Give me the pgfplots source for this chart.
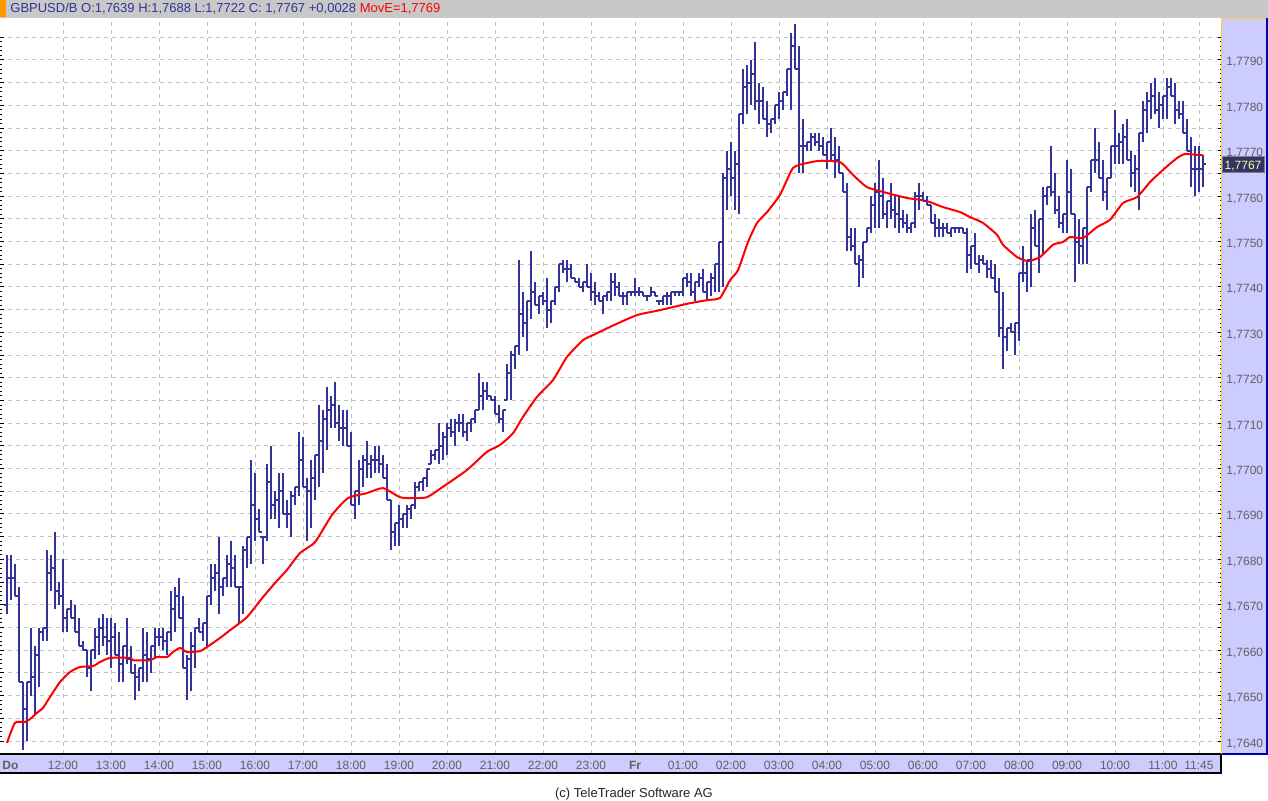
\documentclass[border=0pt]{standalone}
\usepackage{fontspec}
\setmainfont{Liberation Sans}
\usepackage{pgfplots}
\usepackage{pgfplotstable}
\pgfplotsset{compat=1.18}

\definecolor{barblue}{RGB}{51,51,153}
\definecolor{panel}{RGB}{204,204,255}
\definecolor{hdrgray}{RGB}{200,200,200}
\definecolor{gridgray}{RGB}{192,192,192}
\definecolor{lblgray}{RGB}{96,96,96}
\definecolor{hdrorange}{RGB}{255,153,0}
\definecolor{edgeorange}{RGB}{255,204,51}
\definecolor{edgeblue}{RGB}{0,0,170}
\definecolor{tagblue}{RGB}{51,51,102}
\definecolor{tagtext}{RGB}{255,255,153}

% open / close ticks of the OHLC bars
\pgfdeclareplotmark{otick}{\pgfpathmoveto{\pgfqpoint{-1.5pt}{0pt}}\pgfpathlineto{\pgfqpoint{0pt}{0pt}}\pgfusepathqstroke}
\pgfdeclareplotmark{ctick}{\pgfpathmoveto{\pgfqpoint{0pt}{0pt}}\pgfpathlineto{\pgfqpoint{1.5pt}{0pt}}\pgfusepathqstroke}

% 5-minute bars, slot k (12:00 = 14, Fr 00:00 = 157)
\pgfplotstableread{
k o h l c
0 1.7670 1.7681 1.7668 1.7676
1 1.7676 1.7681 1.7671 1.7676
2 1.7676 1.7679 1.7672 1.7672
3 1.7672 1.7674 1.7653 1.7653
4 1.7653 1.7653 1.7638 1.7647
5 1.7647 1.7653 1.7640 1.7653
6 1.7653 1.7665 1.7650 1.7654
7 1.7654 1.7661 1.7646 1.7659
8 1.7659 1.7665 1.7652 1.7664
9 1.7664 1.7665 1.7662 1.7665
10 1.7665 1.7682 1.7662 1.7677
11 1.7677 1.7681 1.7673 1.7678
12 1.7678 1.7686 1.7669 1.7673
13 1.7673 1.7675 1.7670 1.7672
14 1.7672 1.7680 1.7664 1.7667
15 1.7667 1.7669 1.7664 1.7669
16 1.7669 1.7671 1.7667 1.7667
17 1.7667 1.7670 1.7664 1.7664
18 1.7664 1.7667 1.7661 1.7661
19 1.7661 1.7662 1.7660 1.7660
20 1.7660 1.7660 1.7654 1.7656
21 1.7656 1.7660 1.7651 1.7660
22 1.7660 1.7665 1.7658 1.7663
23 1.7663 1.7667 1.7659 1.7665
24 1.7665 1.7668 1.7661 1.7663
25 1.7663 1.7667 1.7659 1.7662
26 1.7662 1.7667 1.7656 1.7663
27 1.7663 1.7666 1.7659 1.7659
28 1.7659 1.7664 1.7653 1.7657
29 1.7657 1.7661 1.7653 1.7661
30 1.7661 1.7667 1.7657 1.7658
31 1.7658 1.7661 1.7655 1.7655
32 1.7655 1.7657 1.7649 1.7654
33 1.7654 1.7656 1.7651 1.7656
34 1.7656 1.7665 1.7653 1.7659
35 1.7659 1.7664 1.7653 1.7658
36 1.7658 1.7661 1.7655 1.7661
37 1.7661 1.7665 1.7658 1.7663
38 1.7663 1.7665 1.7661 1.7663
39 1.7663 1.7665 1.7660 1.7662
40 1.7662 1.7664 1.7659 1.7664
41 1.7664 1.7673 1.7662 1.7669
42 1.7669 1.7674 1.7664 1.7672
43 1.7672 1.7676 1.7667 1.7667
44 1.7667 1.7672 1.7656 1.7656
45 1.7656 1.7659 1.7649 1.7658
46 1.7658 1.7664 1.7651 1.7661
47 1.7661 1.7665 1.7656 1.7665
48 1.7665 1.7667 1.7664 1.7664
49 1.7664 1.7666 1.7662 1.7666
50 1.7666 1.7672 1.7661 1.7672
51 1.7672 1.7679 1.7670 1.7676
52 1.7676 1.7679 1.7673 1.7677
53 1.7677 1.7685 1.7668 1.7674
54 1.7674 1.7676 1.7672 1.7676
55 1.7676 1.7681 1.7674 1.7679
56 1.7679 1.7684 1.7674 1.7678
57 1.7678 1.7681 1.7674 1.7674
58 1.7674 1.7674 1.7666 1.7674
59 1.7674 1.7683 1.7668 1.7682
60 1.7682 1.7685 1.7678 1.7685
61 1.7685 1.7702 1.7679 1.7692
62 1.7692 1.7699 1.7684 1.7689
63 1.7689 1.7691 1.7686 1.7686
64 1.7685 1.7685 1.7679 1.7685
65 1.7685 1.7701 1.7684 1.7697
66 1.7697 1.7705 1.7689 1.7692
67 1.7692 1.7695 1.7689 1.7693
68 1.7693 1.7699 1.7687 1.7695
69 1.7695 1.7699 1.7690 1.7690
70 1.7690 1.7693 1.7687 1.7690
71 1.7690 1.7695 1.7685 1.7694
72 1.7694 1.7696 1.7692 1.7696
73 1.7696 1.7708 1.7694 1.7702
74 1.7702 1.7707 1.7696 1.7696
75 1.7696 1.7698 1.7684 1.7695
76 1.7695 1.7702 1.7687 1.7698
77 1.7698 1.7703 1.7693 1.7703
78 1.7703 1.7714 1.7696 1.7706
79 1.7706 1.7713 1.7699 1.7711
80 1.7711 1.7718 1.7704 1.7713
81 1.7713 1.7716 1.7709 1.7714
82 1.7714 1.7719 1.7709 1.7710
83 1.7710 1.7714 1.7706 1.7709
84 1.7709 1.7713 1.7705 1.7709
85 1.7709 1.7713 1.7705 1.7705
86 1.7705 1.7708 1.7692 1.7692
87 1.7692 1.7695 1.7689 1.7695
88 1.7695 1.7702 1.7692 1.7700
89 1.7700 1.7703 1.7696 1.7702
90 1.7702 1.7706 1.7698 1.7701
91 1.7701 1.7703 1.7698 1.7702
92 1.7702 1.7705 1.7699 1.7702
93 1.7702 1.7705 1.7699 1.7701
94 1.7701 1.7703 1.7698 1.7698
95 1.7698 1.7701 1.7693 1.7693
96 1.7693 1.7693 1.7682 1.7686
97 1.7686 1.7688 1.7683 1.7688
98 1.7688 1.7692 1.7683 1.7689
99 1.7689 1.7690 1.7687 1.7690
100 1.7690 1.7692 1.7687 1.7691
101 1.7691 1.7692 1.7689 1.7692
102 1.7692 1.7697 1.7691 1.7696
103 1.7696 1.7697 1.7695 1.7697
104 1.7697 1.7698 1.7695 1.7698
105 1.7698 1.7700 1.7696 1.7700
106 1.7701 1.7704 1.7701 1.7703
107 1.7703 1.7704 1.7702 1.7704
108 1.7704 1.7710 1.7701 1.7705
109 1.7705 1.7708 1.7702 1.7707
110 1.7707 1.7710 1.7703 1.7709
111 1.7709 1.7711 1.7707 1.7708
112 1.7708 1.7711 1.7705 1.7710
113 1.7710 1.7712 1.7708 1.7710
114 1.7710 1.7712 1.7707 1.7708
115 1.7708 1.7710 1.7706 1.7710
116 1.7710 1.7711 1.7708 1.7711
117 1.7711 1.7713 1.7710 1.7713
118 1.7713 1.7721 1.7713 1.7716
119 1.7716 1.7719 1.7713 1.7717
120 1.7717 1.7719 1.7715 1.7716
121 1.7716 1.7716 1.7715 1.7715
122 1.7715 1.7716 1.7712 1.7712
123 1.7712 1.7714 1.7710 1.7711
124 1.7711 1.7713 1.7708 1.7713
125 1.7715 1.7723 1.7715 1.7721
126 1.7721 1.7726 1.7715 1.7725
127 1.7725 1.7727 1.7722 1.7727
128 1.7727 1.7746 1.7725 1.7734
129 1.7734 1.7739 1.7729 1.7732
130 1.7732 1.7737 1.7726 1.7737
131 1.7737 1.7748 1.7733 1.7739
132 1.7739 1.7741 1.7736 1.7736
133 1.7736 1.7738 1.7734 1.7738
134 1.7738 1.7739 1.7736 1.7737
135 1.7737 1.7742 1.7731 1.7735
136 1.7735 1.7737 1.7732 1.7737
137 1.7737 1.7740 1.7736 1.7740
138 1.7740 1.7745 1.7739 1.7745
139 1.7745 1.7746 1.7743 1.7744
140 1.7744 1.7746 1.7741 1.7744
141 1.7744 1.7745 1.7742 1.7742
142 1.7742 1.7742 1.7741 1.7741
143 1.7741 1.7742 1.7740 1.7740
144 1.7740 1.7741 1.7739 1.7741
145 1.7741 1.7745 1.7740 1.7740
146 1.7740 1.7743 1.7737 1.7739
147 1.7739 1.7741 1.7736 1.7738
148 1.7738 1.7739 1.7737 1.7737
149 1.7737 1.7738 1.7734 1.7738
150 1.7738 1.7739 1.7737 1.7739
151 1.7739 1.7743 1.7737 1.7741
152 1.7741 1.7743 1.7738 1.7740
153 1.7740 1.7741 1.7738 1.7738
154 1.7738 1.7739 1.7736 1.7738
155 1.7738 1.7739 1.7736 1.7739
156 1.7739 1.7739 1.7738 1.7739
157 1.7739 1.7742 1.7738 1.7739
158 1.7739 1.7740 1.7738 1.7739
159 1.7739 1.7739 1.7738 1.7738
160 1.7738 1.7738 1.7737 1.7738
161 1.7738 1.7740 1.7738 1.7739
162 1.7739 1.7739 1.7738 1.7738
163 1.7737 1.7737 1.7736 1.7737
164 1.7737 1.7738 1.7736 1.7738
165 1.7738 1.7739 1.7736 1.7738
166 1.7738 1.7739 1.7736 1.7739
167 1.7739 1.7739 1.7738 1.7739
168 1.7739 1.7739 1.7738 1.7739
169 1.7739 1.7742 1.7738 1.7742
170 1.7742 1.7743 1.7740 1.7741
171 1.7741 1.7743 1.7738 1.7739
172 1.7739 1.7741 1.7737 1.7741
173 1.7741 1.7743 1.7740 1.7742
174 1.7742 1.7744 1.7739 1.7739
175 1.7739 1.7741 1.7737 1.7741
176 1.7741 1.7743 1.7738 1.7742
177 1.7742 1.7745 1.7739 1.7745
178 1.7745 1.7750 1.7739 1.7750
179 1.7750 1.7765 1.7740 1.7764
180 1.7764 1.7770 1.7757 1.7766
181 1.7766 1.7772 1.7760 1.7764
182 1.7764 1.7770 1.7757 1.7767
183 1.7767 1.7778 1.7756 1.7778
184 1.7778 1.7788 1.7776 1.7784
185 1.7784 1.7789 1.7778 1.7785
186 1.7785 1.7790 1.7780 1.7787
187 1.7787 1.7794 1.7779 1.7781
188 1.7781 1.7785 1.7776 1.7781
189 1.7781 1.7784 1.7777 1.7777
190 1.7777 1.7781 1.7773 1.7776
191 1.7776 1.7777 1.7774 1.7777
192 1.7777 1.7780 1.7776 1.7780
193 1.7780 1.7783 1.7777 1.7781
194 1.7781 1.7783 1.7779 1.7783
195 1.7783 1.7788 1.7782 1.7788
196 1.7788 1.7796 1.7779 1.7793
197 1.7793 1.7798 1.7788 1.7788
198 1.7788 1.7793 1.7765 1.7771
199 1.7771 1.7777 1.7765 1.7771
200 1.7771 1.7772 1.7770 1.7772
201 1.7772 1.7774 1.7770 1.7773
202 1.7773 1.7774 1.7771 1.7772
203 1.7772 1.7774 1.7770 1.7771
204 1.7771 1.7773 1.7769 1.7769
205 1.7769 1.7772 1.7766 1.7772
206 1.7772 1.7775 1.7768 1.7769
207 1.7769 1.7773 1.7764 1.7768
208 1.7768 1.7771 1.7765 1.7765
209 1.7765 1.7765 1.7761 1.7761
210 1.7761 1.7763 1.7748 1.7751
211 1.7751 1.7753 1.7748 1.7749
212 1.7749 1.7753 1.7745 1.7745
213 1.7745 1.7747 1.7740 1.7746
214 1.7746 1.7750 1.7742 1.7750
215 1.7750 1.7753 1.7750 1.7753
216 1.7753 1.7760 1.7752 1.7758
217 1.7758 1.7763 1.7753 1.7761
218 1.7761 1.7768 1.7753 1.7760
219 1.7760 1.7764 1.7755 1.7756
220 1.7756 1.7759 1.7753 1.7759
221 1.7759 1.7763 1.7755 1.7757
222 1.7757 1.7760 1.7753 1.7756
223 1.7756 1.7760 1.7752 1.7755
224 1.7755 1.7757 1.7753 1.7754
225 1.7754 1.7756 1.7752 1.7753
226 1.7753 1.7754 1.7752 1.7754
227 1.7754 1.7761 1.7753 1.7760
228 1.7760 1.7763 1.7757 1.7760
229 1.7760 1.7761 1.7759 1.7759
230 1.7759 1.7760 1.7758 1.7758
231 1.7758 1.7758 1.7754 1.7754
232 1.7754 1.7756 1.7751 1.7753
233 1.7753 1.7755 1.7751 1.7753
234 1.7753 1.7754 1.7751 1.7753
235 1.7753 1.7754 1.7752 1.7752
236 1.7752 1.7753 1.7751 1.7753
237 1.7753 1.7753 1.7752 1.7753
238 1.7753 1.7753 1.7752 1.7753
239 1.7753 1.7753 1.7752 1.7752
240 1.7752 1.7753 1.7743 1.7747
241 1.7747 1.7749 1.7744 1.7749
242 1.7749 1.7752 1.7745 1.7745
243 1.7745 1.7747 1.7743 1.7746
244 1.7746 1.7747 1.7745 1.7745
245 1.7745 1.7746 1.7742 1.7744
246 1.7744 1.7746 1.7742 1.7742
247 1.7742 1.7745 1.7739 1.7739
248 1.7739 1.7742 1.7729 1.7731
249 1.7731 1.7739 1.7722 1.7729
250 1.7729 1.7731 1.7726 1.7731
251 1.7731 1.7732 1.7730 1.7730
252 1.7730 1.7732 1.7725 1.7732
253 1.7732 1.7743 1.7728 1.7743
254 1.7743 1.7749 1.7741 1.7743
255 1.7743 1.7746 1.7739 1.7746
256 1.7746 1.7756 1.7740 1.7753
257 1.7753 1.7757 1.7749 1.7749
258 1.7749 1.7755 1.7743 1.7755
259 1.7755 1.7762 1.7747 1.7760
260 1.7760 1.7762 1.7758 1.7762
261 1.7762 1.7771 1.7760 1.7761
262 1.7761 1.7765 1.7756 1.7757
263 1.7757 1.7760 1.7753 1.7754
264 1.7754 1.7756 1.7752 1.7756
265 1.7756 1.7768 1.7752 1.7761
266 1.7761 1.7766 1.7756 1.7756
267 1.7756 1.7756 1.7741 1.7750
268 1.7750 1.7755 1.7745 1.7749
269 1.7749 1.7753 1.7745 1.7753
270 1.7753 1.7762 1.7745 1.7762
271 1.7762 1.7768 1.7761 1.7768
272 1.7768 1.7775 1.7765 1.7768
273 1.7768 1.7772 1.7764 1.7764
274 1.7764 1.7768 1.7759 1.7761
275 1.7761 1.7764 1.7757 1.7764
276 1.7764 1.7771 1.7764 1.7771
277 1.7771 1.7779 1.7767 1.7771
278 1.7771 1.7774 1.7767 1.7772
279 1.7772 1.7776 1.7767 1.7773
280 1.7773 1.7777 1.7768 1.7768
281 1.7768 1.7770 1.7762 1.7765
282 1.7765 1.7769 1.7761 1.7766
283 1.7766 1.7774 1.7757 1.7774
284 1.7774 1.7781 1.7772 1.7779
285 1.7779 1.7783 1.7774 1.7781
286 1.7781 1.7785 1.7777 1.7782
287 1.7782 1.7786 1.7778 1.7779
288 1.7779 1.7783 1.7775 1.7780
289 1.7780 1.7782 1.7777 1.7782
290 1.7782 1.7786 1.7777 1.7784
291 1.7784 1.7786 1.7782 1.7782
292 1.7782 1.7785 1.7776 1.7779
293 1.7779 1.7781 1.7777 1.7778
294 1.7778 1.7781 1.7774 1.7774
295 1.7774 1.7777 1.7770 1.7770
296 1.7770 1.7773 1.7762 1.7766
297 1.7766 1.7771 1.7760 1.7766
298 1.7766 1.7771 1.7761 1.7766
299 1.7766 1.7769 1.7762 1.7767
}\ohlc

% moving average (MovE)
\pgfplotstableread{
k m
0 1.76396
2 1.76440
4.5 1.76442
6 1.76450
7.5 1.76462
9 1.76473
10.75 1.76497
13.25 1.76530
15.75 1.76552
18.25 1.76563
21.5 1.76565
23.25 1.76574
25.75 1.76583
30.75 1.76583
31.5 1.76578
35.75 1.76578
37.5 1.76585
40 1.76585
41.5 1.76596
43.25 1.76605
45 1.76596
48.25 1.76598
50 1.76607
53.25 1.76627
56.5 1.76649
60 1.76673
64 1.76717
67 1.76748
70 1.76777
73.25 1.76814
77 1.76838
81.25 1.76898
85.25 1.76935
90 1.76946
94 1.76957
98.25 1.76937
101.5 1.76935
105 1.76937
109 1.76960
115 1.76997
120 1.77037
123.25 1.77052
126.5 1.77078
129 1.77114
132.5 1.77158
136.5 1.77195
140 1.77246
144 1.77283
146.5 1.77294
150.75 1.77312
155.75 1.77332
158.25 1.77340
163.25 1.77349
170 1.77363
175 1.77371
178.25 1.77376
180.75 1.77415
182.75 1.77437
185.25 1.77499
187.5 1.77541
190 1.77565
193.25 1.77603
196.5 1.77662
200 1.77673
203.25 1.77678
208.25 1.77675
211.5 1.77647
215 1.77620
220 1.77607
225 1.77596
228.25 1.77592
230.75 1.77587
234 1.77576
238.25 1.77565
240.75 1.77554
244 1.77541
247.5 1.77515
249 1.77493
252.5 1.77466
255.25 1.77457
258.25 1.77466
261.5 1.77493
264 1.77499
265.75 1.77510
269 1.77508
272.5 1.77532
275.75 1.77548
279 1.77585
282.5 1.77598
285.75 1.77631
289 1.77658
292.5 1.77684
294.5 1.77693
297.5 1.77691
299 1.77690
}\mavg

\begin{document}
\begin{tikzpicture}
\path[use as bounding box] (0pt,0pt) rectangle (634pt,400.5pt);
\fill[white] (0pt,0pt) rectangle (634pt,400.5pt);
% header bar
\fill[hdrgray] (0pt,391.5pt) rectangle (634pt,400.5pt);
\fill[hdrorange] (0pt,392pt) rectangle (2.75pt,400.5pt);
% price panel and time band
\fill[panel] (611pt,23.5pt) rectangle (634pt,391.5pt);
\fill[panel] (0pt,13.75pt) rectangle (610.5pt,23.5pt);

\begin{axis}[
    at={(0pt,23.5pt)}, anchor=south west,
    scale only axis, width=611pt, height=368pt,
    xmin=-1.75, xmax=303.75,
    ymin=1.763714, ymax=1.779925,
    axis line style={draw=none},
    tick align=inside,
    xtick={14,26,38,50,62,74,86,98,110,122,134,146,157,169,181,193,205,217,229,241,253,265,277,289,298},
    xticklabels={12:00,13:00,14:00,15:00,16:00,17:00,18:00,19:00,20:00,21:00,22:00,23:00,\textbf{Fr},01:00,02:00,03:00,04:00,05:00,06:00,07:00,08:00,09:00,10:00,11:00,11:45},
    ytick={1.7640,1.7645,1.7650,1.7655,1.7660,1.7665,1.7670,1.7675,1.7680,1.7685,1.7690,1.7695,1.7700,1.7705,1.7710,1.7715,1.7720,1.7725,1.7730,1.7735,1.7740,1.7745,1.7750,1.7755,1.7760,1.7765,1.7770,1.7775,1.7780,1.7785,1.7790,1.7795},
    yticklabels={{1,7640},{},{1,7650},{},{1,7660},{},{1,7670},{},{1,7680},{},{1,7690},{},{1,7700},{},{1,7710},{},{1,7720},{},{1,7730},{},{1,7740},{},{1,7750},{},{1,7760},{},{1,7770},{},{1,7780},{},{1,7790},{}},
    minor y tick num=4,
    ytick pos=both, yticklabel pos=right,
    xmajorgrids, ymajorgrids,
    major grid style={gridgray, line width=0.5pt, dash pattern=on 2pt off 2pt},
    major tick length=2pt, minor tick length=1pt,
    tick style={black, line width=0.5pt},
    xtick style={draw=none},
    tick label style={font=\fontsize{6}{7}\selectfont, text=lblgray, inner sep=0pt},
    xticklabel style={anchor=base, yshift=-8pt},
    yticklabel style={anchor=base west, xshift=2pt, yshift=-3pt},
  ]
  % high-low ranges with close ticks
  \addplot[barblue, only marks, mark=ctick, mark options={line width=1pt, solid},
    error bars/.cd, y dir=both, y explicit, error mark=none,
    error bar style={line width=1pt, barblue, solid}]
    table[x=k, y=c, y error plus expr=\thisrow{h}-\thisrow{c}, y error minus expr=\thisrow{c}-\thisrow{l}] {\ohlc};
  % open ticks
  \addplot[barblue, only marks, mark=otick, mark options={line width=1pt, solid}]
    table[x=k, y=o] {\ohlc};
  % moving average
  \addplot[red, line width=1pt, no marks, smooth, tension=0.35] table[x=k, y=m] {\mavg};
\end{axis}

% borders
\draw[black, line width=1pt] (0pt,23.5pt) -- (610.5pt,23.5pt);
\draw[black, line width=1pt] (0pt,13.75pt) -- (610.5pt,13.75pt) -- (610.5pt,23.5pt);
\draw[edgeorange, line width=0.5pt] (610.75pt,23.5pt) -- (610.75pt,391.25pt) -- (634pt,391.25pt);
\draw[edgeblue, line width=1pt] (633.5pt,391.5pt) -- (633.5pt,23.5pt) -- (611pt,23.5pt);

% day label at the left end of the time band
\node[anchor=base west, inner sep=0pt, text=lblgray, font=\fontsize{6}{7}\selectfont\bfseries] at (1pt,15.5pt) {Do};

% last price tag
\filldraw[fill=tagblue, draw=gray, line width=0.5pt] (611pt,314pt) rectangle (632pt,322pt);
\node[text=tagtext, font=\fontsize{6}{7}\selectfont, inner sep=0pt, anchor=base] at (621.5pt,315.5pt) {1,7767};

% header text
\node[anchor=base west, inner sep=0pt, font=\fontsize{6.5}{7.5}\selectfont] at (5pt,394pt)
  {\textcolor{barblue}{GBPUSD/B O:1,7639 H:1,7688 L:1,7722 C: 1,7767 +0,0028} \textcolor{red}{MovE=1,7769}};

% footer
\node[anchor=base, inner sep=0pt, font=\fontsize{6.5}{7.5}\selectfont, text=black!85] at (317pt,1.8pt)
  {(c) TeleTrader Software AG};
\end{tikzpicture}
\end{document}
